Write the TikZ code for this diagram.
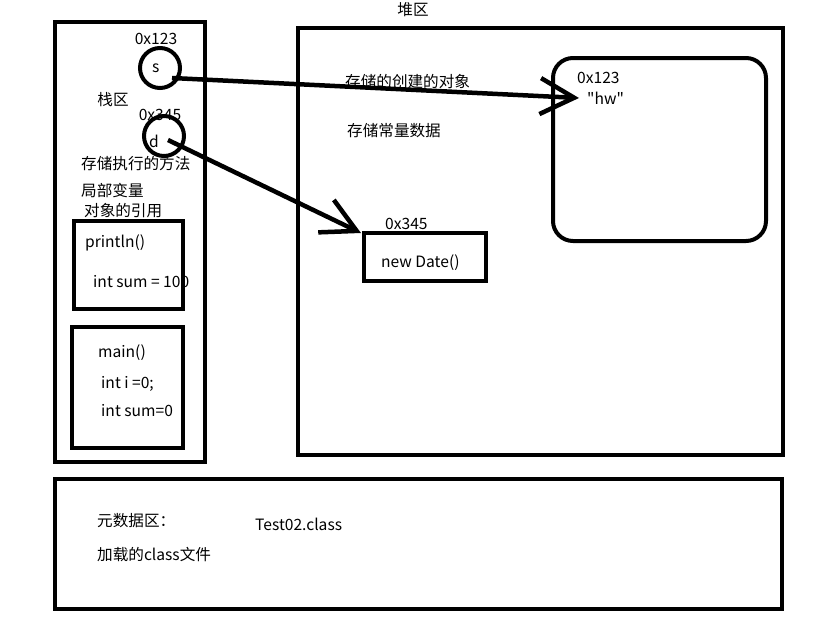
\documentclass[tikz,border=0pt]{standalone}
\usepackage{fontspec}
\setmainfont{Noto Sans CJK SC}[Ligatures=TeXOff]
\usetikzlibrary{arrows.meta,calc}
\begin{document}
\begin{tikzpicture}[x=1pt, y=-1pt, font=\fontsize{15.6}{18}\selectfont,
		area/.style={draw, line width=4pt},
		ref/.style={draw, circle, line width=4pt, minimum size=40pt, inner sep=0pt},
		txt/.style={anchor=west, inner sep=0pt},
		>={Straight Barb[length=34pt, width=36pt]}]
	\useasboundingbox (0,0) rectangle (820,629);
	% stack
	\draw[area] (55,22) rectangle (205,462);
	\node (stack) at (113,100) {栈区};
	\node[ref] (s) at (160,68) {};
	\node[txt] at (152,68) {s};
	\node[ref] (d) at (164,136) {};
	\node at (156,39) {0x123};
	\node at (160,115) {0x345};
	\node[txt] at (149,141) {d};
	\node[txt] at (81,164) {存储执行的方法};
	\node[txt] at (81,191) {局部变量};
	\node[txt] at (84,211) {对象的引用};
	\draw[area] (74,221) rectangle (183,309);
	\node[txt] at (85,243) {println()};
	\node[txt] at (93,282) {int sum = 100};
	\draw[area] (72,327) rectangle (183,448);
	\node[txt] at (98,353) {main()};
	\node[txt] at (101,384) {int i =0;};
	\node[txt] at (101,411) {int sum=0};
	% heap
	\draw[area, line width=3.5pt] (298,28) rectangle (783,455);
	\node (heap) at (413,10) {堆区};
	\node[txt] at (345,82) {存储的创建的对象};
	\node[txt] at (347,131) {存储常量数据};
	\draw[area, rounded corners=20pt] (553,58) rectangle (766,241);
	\node[txt] at (577,78) {0x123};
	\node[txt] (hw) at (587,98) {"hw"};
	\node[area, minimum width=122pt, minimum height=48pt, inner sep=0pt] (date) at (425,257) {};
	\node[txt] at (381,263) {new Date()};
	\node[txt] at (385,224) {0x345};
	% metadata
	\draw[area] (55,479) rectangle (782,609);
	\node[txt] at (97,521) {元数据区：};
	\node[txt] at (255,524) {Test02.class};
	\node[txt] at (97,555) {加载的class文件};
	% references
	\draw[->, line width=4.5pt] ($(s.center)+(12,10)$) -- ($(hw.west)+(-8,0)$);
	\draw[->, line width=4.5pt] ($(d.center)+(4,4)$) -- ($(date.north west)+(-1,2)$);
\end{tikzpicture}
\end{document}
